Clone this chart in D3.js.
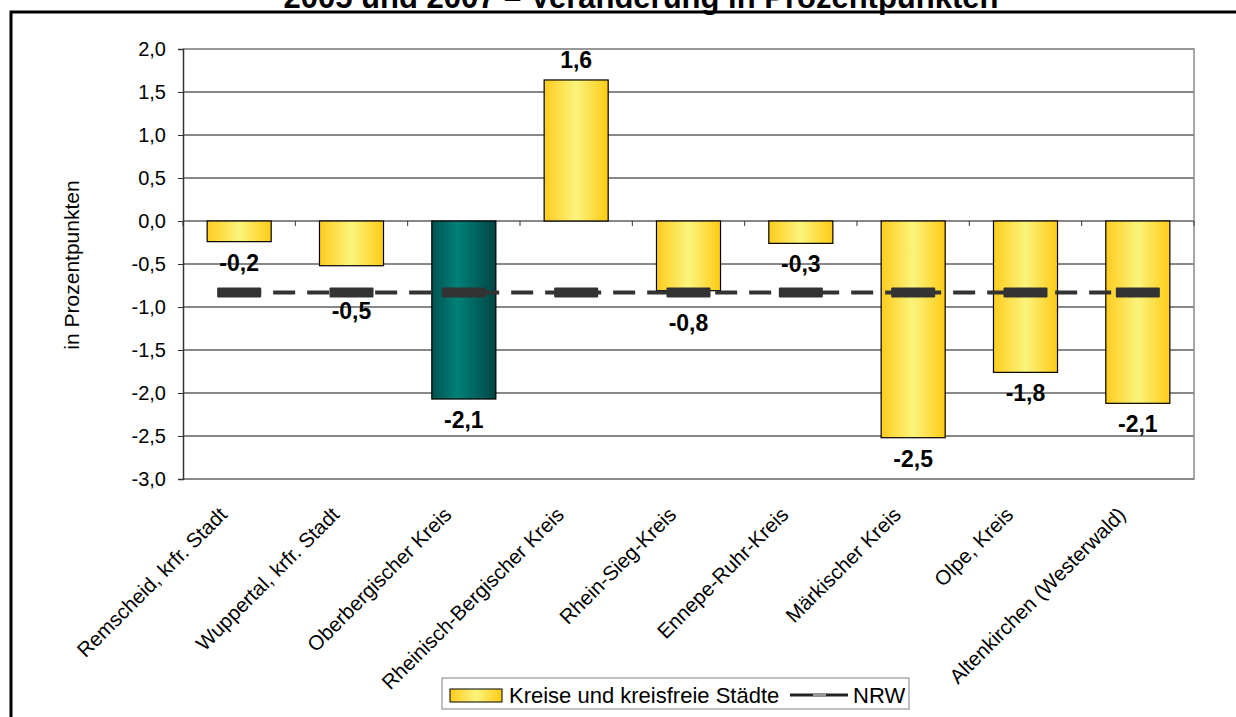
<!DOCTYPE html>
<html><head><meta charset="utf-8">
<script src="https://cdn.jsdelivr.net/npm/d3@7"></script>
<style>body{margin:0;background:#fff;} svg{display:block;font-family:Arial,"Liberation Sans",sans-serif;}</style>
</head><body><svg id="c" width="1236" height="717"></svg>
<script>
const categories = ["Remscheid, krfr. Stadt","Wuppertal, krfr. Stadt","Oberbergischer Kreis","Rheinisch-Bergischer Kreis","Rhein-Sieg-Kreis","Ennepe-Ruhr-Kreis","Märkischer Kreis","Olpe, Kreis","Altenkirchen (Westerwald)"];
const values = [-0.24,-0.52,-2.07,1.64,-0.81,-0.26,-2.52,-1.76,-2.12];
const nrwValues = [-0.83,-0.83,-0.83,-0.83,-0.83,-0.83,-0.83,-0.83,-0.83];
const highlighted = ["Oberbergischer Kreis"];
const yTicks = [2.0,1.5,1.0,0.5,0.0,-0.5,-1.0,-1.5,-2.0,-2.5,-3.0];
const titleText = "2005 und 2007 – Veränderung in Prozentpunkten";
const yTitle = "in Prozentpunkten";
const legendLabels = ["Kreise und kreisfreie Städte","NRW"];

const svg = d3.select("#c");
const L=183,R=1194,T=49,B=479;
const x = d3.scaleBand().domain(categories).range([L,R]).paddingInner(0.43).paddingOuter(0.215);
const y = d3.scaleLinear().domain([-3,2]).range([B,T]);
const fmt = v => d3.format(".1f")(v).replace(".",",").replace("\u2212","-");

const defs = svg.append("defs");
const gy = defs.append("linearGradient").attr("id","gy").attr("x1","0").attr("x2","1").attr("y1","0").attr("y2","0");
gy.append("stop").attr("offset","0%").attr("stop-color","#FFCC1E");
gy.append("stop").attr("offset","50%").attr("stop-color","#FAF47C");
gy.append("stop").attr("offset","100%").attr("stop-color","#FFCB16");
const gt = defs.append("linearGradient").attr("id","gt").attr("x1","0").attr("x2","1").attr("y1","0").attr("y2","0");
gt.append("stop").attr("offset","0%").attr("stop-color","#00524F");
gt.append("stop").attr("offset","40%").attr("stop-color","#008179");
gt.append("stop").attr("offset","100%").attr("stop-color","#004543");

// frame
svg.append("path").attr("d","M11,717V12H1236").attr("fill","none").attr("stroke","#000").attr("stroke-width",3);
// title
svg.append("text").attr("x",641).attr("y",8).attr("text-anchor","middle").attr("font-weight","bold").attr("font-size",31).text(titleText);

// grid
svg.append("g").selectAll("line").data(yTicks).join("line")
  .attr("x1",L).attr("x2",R).attr("y1",d=>y(d)).attr("y2",d=>y(d))
  .attr("stroke",d=>d===2?"#888":"#111").attr("stroke-width",1);
// border
svg.append("path").attr("d",`M${L},${T}H${R}V${B}H${L}`).attr("fill","none").attr("stroke","#8a8a8a").attr("stroke-width",1.5);

// y axis
const ya = svg.append("g").attr("transform",`translate(${L},0)`)
  .call(d3.axisLeft(y).tickValues(yTicks).tickSize(5).tickPadding(12).tickFormat(fmt));
ya.select(".domain").attr("stroke","#333").attr("stroke-width",1.5);
ya.selectAll(".tick line").attr("stroke","#333");
ya.selectAll("text").attr("font-size",20).attr("font-family","Arial, 'Liberation Sans', sans-serif").attr("fill","#000");

// x ticks at zero line
svg.append("g").selectAll("line").data(d3.range(categories.length+1)).join("line")
  .attr("x1",i=>L+i*x.step()).attr("x2",i=>L+i*x.step()).attr("y1",y(0)).attr("y2",y(0)+5)
  .attr("stroke","#333").attr("stroke-width",1);

// bars
svg.append("g").selectAll("rect").data(categories).join("rect")
  .attr("x",c=>x(c)).attr("width",x.bandwidth())
  .attr("y",(c,i)=>Math.min(y(values[i]),y(0)))
  .attr("height",(c,i)=>Math.abs(y(values[i])-y(0)))
  .attr("fill",c=>highlighted.includes(c)?"url(#gt)":"url(#gy)")
  .attr("stroke","#000").attr("stroke-width",1.2);

// NRW line
const line = d3.line().x(d=>x(d[0])+x.bandwidth()/2).y(d=>y(d[1]));
svg.append("path").datum(categories.map((c,i)=>[c,nrwValues[i]])).attr("d",line)
  .attr("fill","none").attr("stroke","#333").attr("stroke-width",4).attr("stroke-dasharray","22,12");
svg.append("g").selectAll("rect").data(categories).join("rect")
  .attr("x",c=>x(c)+x.bandwidth()/2-22).attr("width",44)
  .attr("y",(c,i)=>y(nrwValues[i])-5).attr("height",10).attr("fill","#333").attr("rx",1);

// value labels
svg.append("g").selectAll("text").data(categories).join("text")
  .attr("x",c=>x(c)+x.bandwidth()/2)
  .attr("y",(c,i)=>{
    const v=values[i];
    if(v>=0) return y(v)-20;
    let cy=y(v)+21; const ny=y(nrwValues[i]);
    if(Math.abs(cy-ny)<25) cy=Math.max(ny+19,y(v)+32);
    return cy;
  })
  .attr("dy","0.35em").attr("text-anchor","middle").attr("font-weight","bold").attr("font-size",23)
  .text((c,i)=>fmt(values[i]));

// category labels
svg.append("g").selectAll("text").data(categories).join("text")
  .attr("transform",c=>`translate(${x(c)+x.bandwidth()/2-11},516) rotate(-45)`)
  .attr("text-anchor","end").attr("font-size",20.5).text(c=>c);

// y title
svg.append("text").attr("transform","translate(72,265) rotate(-90)").attr("text-anchor","middle")
  .attr("dy","0.35em").attr("font-size",21).text(yTitle);

// legend
const lg = svg.append("g");
lg.append("rect").attr("x",442).attr("y",678).attr("width",467).attr("height",31).attr("fill","#fff").attr("stroke","#808080").attr("stroke-width",1);
lg.append("rect").attr("x",450).attr("y",689).attr("width",52).attr("height",13).attr("fill","url(#gy)").attr("stroke","#000");
lg.append("text").attr("x",509).attr("y",695).attr("dy","0.35em").attr("font-size",22).text(legendLabels[0]);
lg.append("line").attr("x1",790).attr("x2",848).attr("y1",695).attr("y2",695).attr("stroke","#222").attr("stroke-width",3);
lg.append("rect").attr("x",813).attr("y",694).attr("width",13).attr("height",2).attr("fill","#999");
lg.append("text").attr("x",853).attr("y",695).attr("dy","0.35em").attr("font-size",22).text(legendLabels[1]);
</script></body></html>
